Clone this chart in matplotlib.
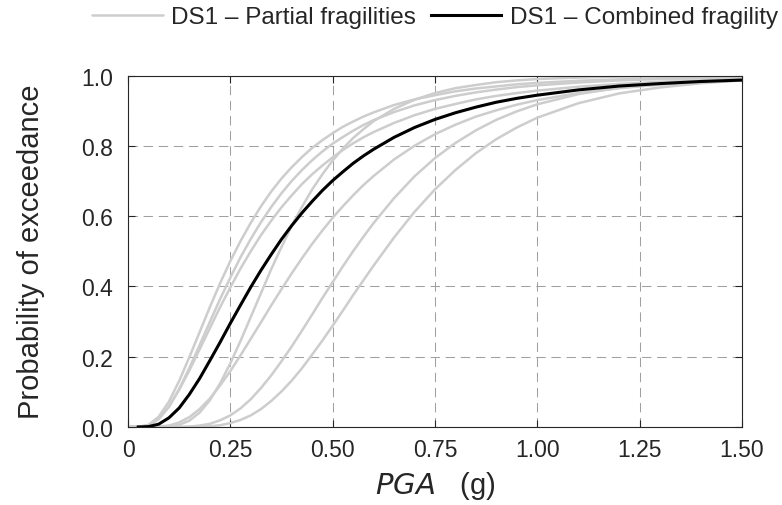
import matplotlib
matplotlib.use("Agg")
import matplotlib.pyplot as plt

plt.rcParams['font.family'] = ['Liberation Sans', 'DejaVu Sans']

# PGA (g) sample points
pga = [0.0, 0.025, 0.05, 0.075, 0.1, 0.125, 0.15, 0.175, 0.2, 0.225, 0.25, 0.275,
       0.3, 0.325, 0.35, 0.375, 0.4, 0.425, 0.45, 0.475, 0.5, 0.525, 0.55, 0.575,
       0.6, 0.65, 0.7, 0.75, 0.8, 0.85, 0.9, 0.95, 1.0, 1.1, 1.2, 1.3, 1.4, 1.5]

# DS1 partial fragilities (probability of exceedance)
partial_1 = [0.000, 0.000, 0.006, 0.029, 0.072, 0.131, 0.199, 0.270, 0.341, 0.409, 0.472, 0.529,
             0.581, 0.628, 0.670, 0.707, 0.739, 0.768, 0.794, 0.816, 0.836, 0.854, 0.869, 0.883,
             0.895, 0.916, 0.932, 0.944, 0.955, 0.963, 0.969, 0.975, 0.979, 0.985, 0.989, 0.992, 0.994, 0.996]
partial_2 = [0.000, 0.000, 0.004, 0.022, 0.057, 0.108, 0.168, 0.233, 0.299, 0.364, 0.425, 0.483,
             0.535, 0.583, 0.626, 0.665, 0.700, 0.731, 0.759, 0.784, 0.806, 0.825, 0.843, 0.859,
             0.873, 0.896, 0.915, 0.930, 0.942, 0.952, 0.960, 0.967, 0.972, 0.980, 0.986, 0.990, 0.992, 0.994]
partial_3 = [0.000, 0.000, 0.005, 0.024, 0.058, 0.106, 0.161, 0.221, 0.281, 0.341, 0.397, 0.451,
             0.500, 0.546, 0.587, 0.625, 0.659, 0.691, 0.719, 0.744, 0.767, 0.788, 0.807, 0.824,
             0.839, 0.865, 0.887, 0.905, 0.919, 0.932, 0.942, 0.950, 0.957, 0.968, 0.976, 0.982, 0.986, 0.989]
partial_4 = [0.000, 0.000, 0.000, 0.000, 0.001, 0.006, 0.018, 0.041, 0.076, 0.124, 0.181, 0.245,
             0.313, 0.381, 0.449, 0.512, 0.572, 0.626, 0.676, 0.719, 0.758, 0.792, 0.822, 0.847,
             0.870, 0.905, 0.931, 0.950, 0.964, 0.973, 0.981, 0.986, 0.990, 0.994, 0.997, 0.998, 0.999, 0.999]
partial_5 = [0.000, 0.000, 0.000, 0.001, 0.004, 0.013, 0.028, 0.051, 0.081, 0.118, 0.159, 0.204,
             0.251, 0.298, 0.346, 0.392, 0.437, 0.480, 0.521, 0.559, 0.595, 0.628, 0.659, 0.688,
             0.714, 0.761, 0.800, 0.833, 0.860, 0.883, 0.901, 0.917, 0.930, 0.950, 0.964, 0.974, 0.981, 0.986]
partial_6 = [0.000, 0.000, 0.000, 0.000, 0.000, 0.000, 0.001, 0.004, 0.009, 0.019, 0.033, 0.053,
             0.079, 0.111, 0.147, 0.187, 0.229, 0.274, 0.320, 0.367, 0.412, 0.457, 0.500, 0.541,
             0.580, 0.651, 0.713, 0.765, 0.808, 0.844, 0.874, 0.898, 0.918, 0.947, 0.965, 0.977, 0.985, 0.990]
partial_7 = [0.000, 0.000, 0.000, 0.000, 0.000, 0.000, 0.000, 0.001, 0.002, 0.005, 0.011, 0.020,
             0.033, 0.051, 0.074, 0.101, 0.132, 0.167, 0.206, 0.246, 0.288, 0.331, 0.375, 0.417,
             0.459, 0.539, 0.612, 0.676, 0.731, 0.779, 0.819, 0.852, 0.880, 0.921, 0.949, 0.966, 0.978, 0.986]
partials = [partial_1, partial_2, partial_3, partial_4, partial_5, partial_6, partial_7]

# DS1 combined fragility
combined = [0.000, 0.000, 0.001, 0.008, 0.026, 0.054, 0.093, 0.138, 0.189, 0.241, 0.295, 0.347,
            0.398, 0.446, 0.491, 0.534, 0.573, 0.609, 0.642, 0.673, 0.701, 0.726, 0.750, 0.771,
            0.790, 0.824, 0.852, 0.875, 0.894, 0.910, 0.924, 0.935, 0.944, 0.959, 0.970, 0.977, 0.983, 0.987]

xticks = [0, 0.25, 0.5, 0.75, 1.0, 1.25, 1.5]
xticklabels = ['0', '0.25', '0.50', '0.75', '1.00', '1.25', '1.50']
yticks = [0, 0.2, 0.4, 0.6, 0.8, 1.0]
yticklabels = ['0.0', '0.2', '0.4', '0.6', '0.8', '1.0']

txt = '#262626'
fig = plt.figure(figsize=(7.82, 5.06), dpi=100)
ax = fig.add_axes([0.1637, 0.1542, 0.785, 0.6946])
for i, p in enumerate(partials):
    ax.plot(pga, p, color='#cdcdcd', lw=1.8, solid_capstyle='round',
            label='DS1 – Partial fragilities' if i == 0 else None)
ax.plot(pga[1:], combined[1:], color='black', lw=2.2, label='DS1 – Combined fragility')
ax.set_xlim(0, 1.5)
ax.set_ylim(0, 1)
ax.set_xticks(xticks)
ax.set_xticklabels(xticklabels)
ax.set_yticks(yticks)
ax.set_yticklabels(yticklabels)
ax.grid(True, ls=(0, (9, 5.5)), color='#a0a0a0', lw=0.75)
ax.tick_params(direction='in', labelsize=16.5, length=5, top=True, right=True, colors=txt)
ax.tick_params(axis='y', pad=11)
ax.tick_params(axis='x', pad=8)
for s in ax.spines.values():
    s.set_color(txt)
ax.set_xlabel('$\\mathit{PGA}$   (g)', fontsize=21, color=txt, labelpad=6)
ax.set_ylabel('Probability of exceedance', fontsize=21, color=txt, labelpad=26)
ax.legend(loc='center', bbox_to_anchor=(0.5, (506 - 18) / 506 - 0.1542),
          bbox_transform=ax.transAxes if False else fig.transFigure,
          ncol=2, frameon=False, fontsize=17.5, handlelength=2.9,
          columnspacing=0.6, handletextpad=0.35, labelcolor=txt)
leg = ax.get_legend()
leg.set_bbox_to_anchor(((128 + 742) / 2 / 782, (506 - 18) / 506), transform=fig.transFigure)
fig.savefig('out.png', dpi=100)
